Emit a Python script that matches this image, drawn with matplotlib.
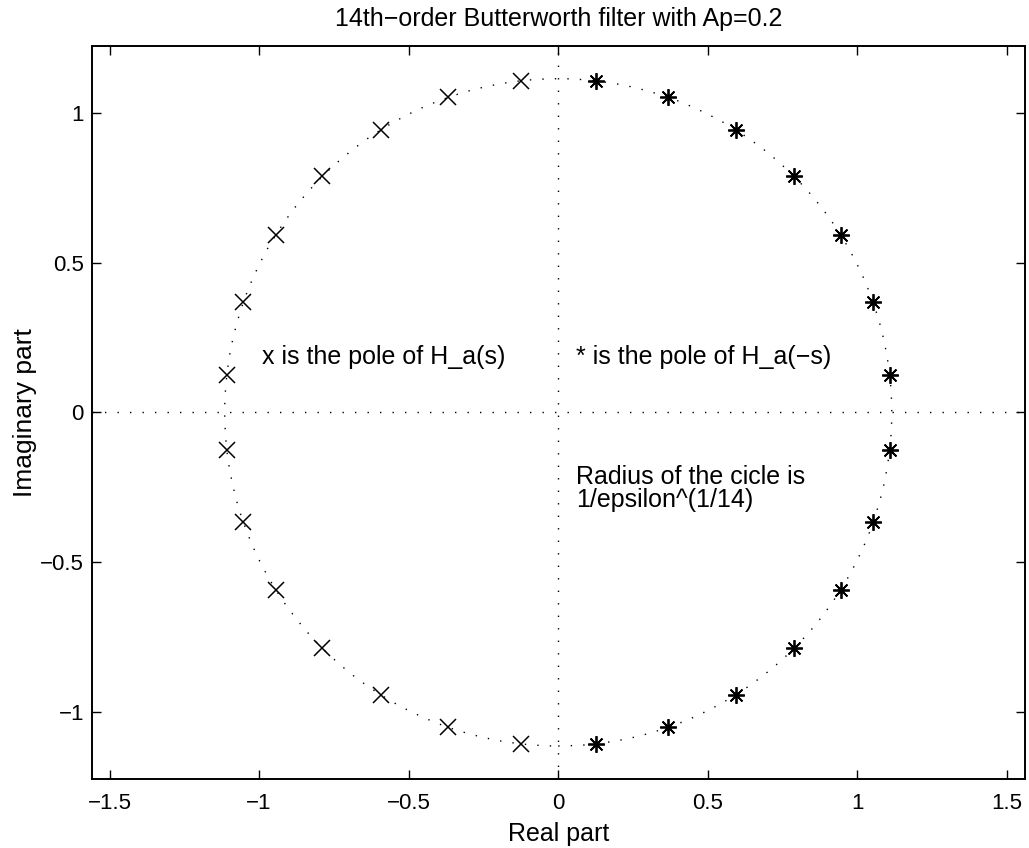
import matplotlib.pyplot as plt
from matplotlib.patches import Circle

# -----------------------------
# Pole locations (14th-order Butterworth, Ap = 0.2 dB)
# -----------------------------
# poles of H_a(s): left half plane
ha_re = [-0.125, -0.368, -0.593, -0.789, -0.944, -1.053, -1.108,
         -1.108, -1.053, -0.944, -0.789, -0.593, -0.368, -0.125]
ha_im = [1.108, 1.053, 0.944, 0.789, 0.593, 0.368, 0.125,
         -0.125, -0.368, -0.593, -0.789, -0.944, -1.053, -1.108]

# poles of H_a(-s): right half plane
hm_re = [0.125, 0.368, 0.593, 0.789, 0.944, 1.053, 1.108,
         1.108, 1.053, 0.944, 0.789, 0.593, 0.368, 0.125]
hm_im = [1.108, 1.053, 0.944, 0.789, 0.593, 0.368, 0.125,
         -0.125, -0.368, -0.593, -0.789, -0.944, -1.053, -1.108]

radius = 1.115  # 1/epsilon^(1/14)

x_ticks = [-1.5, -1, -0.5, 0, 0.5, 1, 1.5]
y_ticks = [-1, -0.5, 0, 0.5, 1]
x_ticklabels = ["\u22121.5", "\u22121", "\u22120.5", "0", "0.5", "1", "1.5"]
y_ticklabels = ["\u22121", "\u22120.5", "0", "0.5", "1"]

# -----------------------------
# Figure
# -----------------------------
plt.rcParams["font.family"] = ["Liberation Sans", "DejaVu Sans"]
plt.rcParams["font.size"] = 16

fig = plt.figure(figsize=(10.29, 8.48), dpi=100)
ax = fig.add_axes([0.089, 0.0815, 0.907, 0.8645])

xlim = (-1.56, 1.56)
ylim = (-1.225, 1.225)

dots = (0, (1, 8))
ax.add_patch(Circle((0, 0), radius, fill=False, edgecolor="black",
                    linewidth=1.0, linestyle=dots))
ax.plot(xlim, [0, 0], color="black", linewidth=1.0, linestyle=dots)
ax.plot([0, 0], ylim, color="black", linewidth=1.0, linestyle=dots)

ax.plot(ha_re, ha_im, linestyle="none", marker="x", markersize=12,
        markeredgewidth=1.1, color="black")
ax.plot(hm_re, hm_im, linestyle="none", marker=(8, 2, 0), markersize=12,
        markeredgewidth=1.3, color="black")

note_size = 18
ax.text(-0.99, 0.185, "x is the pole of H_a(s)", va="center", ha="left",
        fontsize=note_size)
ax.text(0.06, 0.185, "* is the pole of H_a(\u2212s)", va="center", ha="left",
        fontsize=note_size)
ax.text(0.06, -0.255, "Radius of the cicle is\n1/epsilon^(1/14)",
        va="center", ha="left", linespacing=0.95, fontsize=note_size)

ax.set_xlim(xlim)
ax.set_ylim(ylim)
ax.set_xticks(x_ticks)
ax.set_xticklabels(x_ticklabels)
ax.set_yticks(y_ticks)
ax.set_yticklabels(y_ticklabels)
ax.tick_params(direction="in", length=6.5, width=1.0, top=True, right=True)
ax.tick_params(axis="x", pad=10)
ax.tick_params(axis="y", pad=5.5)
for sp in ax.spines.values():
    sp.set_linewidth(1.4)

ax.set_title("14th\u2212order Butterworth filter with Ap=0.2", pad=14,
             fontsize=18)
ax.set_xlabel("Real part", labelpad=6, fontsize=18)
ax.set_ylabel("Imaginary part", labelpad=2.5, fontsize=19)

fig.savefig("out.png", dpi=100)
